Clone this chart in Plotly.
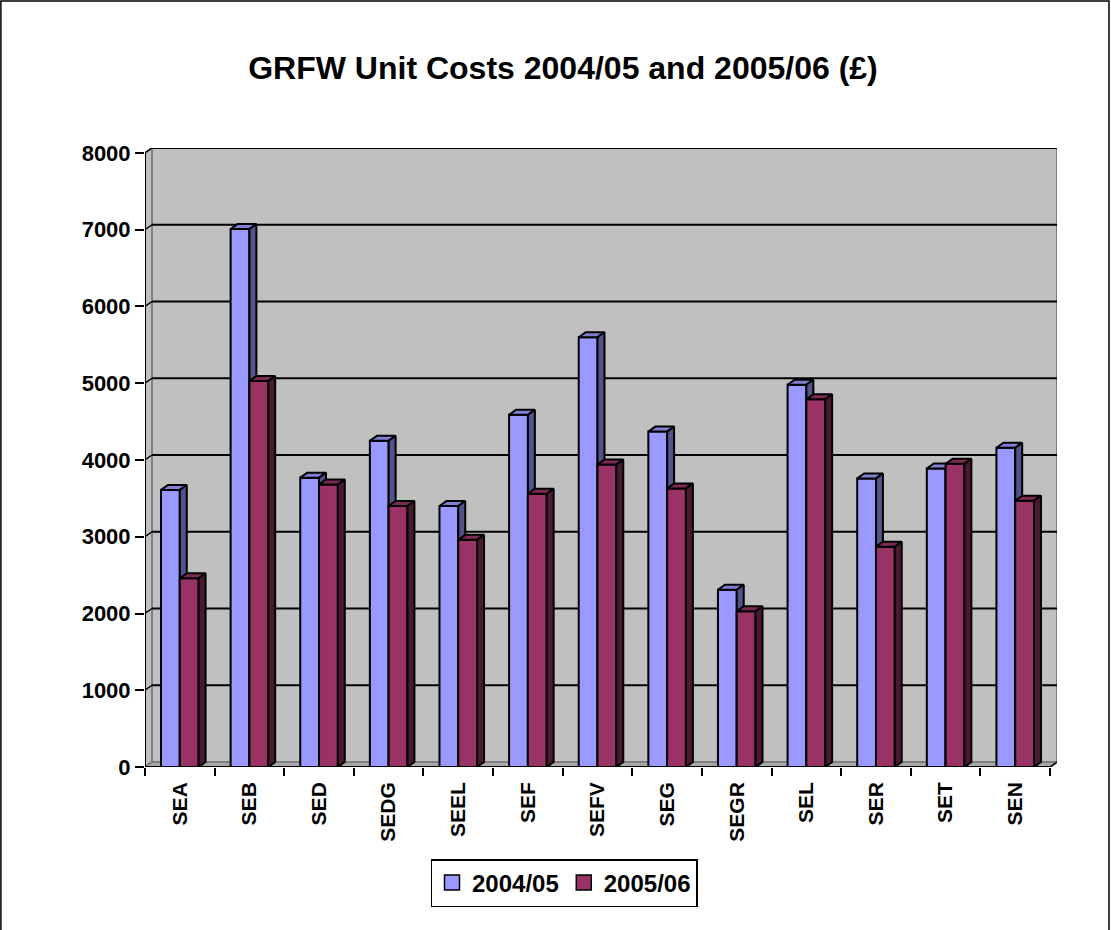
import plotly.graph_objects as go

# Unit costs (GBP) per service area
categories = ["SEA", "SEB", "SED", "SEDG", "SEEL", "SEF", "SEFV", "SEG",
              "SEGR", "SEL", "SER", "SET", "SEN"]
costs_2004_05 = [3610, 7010, 3770, 4250, 3400, 4590, 5600, 4370,
                 2310, 4980, 3760, 3890, 4160]
costs_2005_06 = [2460, 5030, 3680, 3400, 2960, 3560, 3940, 3630,
                 2030, 4790, 2870, 3950, 3470]
series_names = ["2004/05", "2005/06"]
y_ticks = [0, 1000, 2000, 3000, 4000, 5000, 6000, 7000, 8000]

# pseudo-3D geometry (data units)
BAR_W = 0.27      # front face width of one bar
DX = 0.10         # depth offset along x
DY = 65           # depth offset along y
X_LO, X_HI = -0.5, len(categories) - 0.5
Y_TOP = y_ticks[-1]

FONT = "Arial, Liberation Sans, sans-serif"

styles = [
    dict(front="#9999FF", top="#7F7FD4", side="#52528C"),
    dict(front="#993366", top="#7F2A55", side="#4C1933"),
]


def polys(rects):
    xs, ys = [], []
    for pts in rects:
        for px, py in pts:
            xs.append(px)
            ys.append(py)
        xs.append(pts[0][0])
        ys.append(pts[0][1])
        xs.append(None)
        ys.append(None)
    return xs, ys


fig = go.Figure()

for s, vals in enumerate([costs_2004_05, costs_2005_06]):
    fronts, tops, sides = [], [], []
    for i, v in enumerate(vals):
        x0 = i - BAR_W if s == 0 else i
        x1 = x0 + BAR_W
        fronts.append([(x0, 0), (x1, 0), (x1, v), (x0, v)])
        tops.append([(x0, v), (x1, v), (x1 + DX, v + DY), (x0 + DX, v + DY)])
        sides.append([(x1, 0), (x1 + DX, DY), (x1 + DX, v + DY), (x1, v)])
    st = styles[s]
    for faces, col in ((fronts, st["front"]), (tops, st["top"]), (sides, st["side"])):
        xs, ys = polys(faces)
        fig.add_trace(go.Scatter(
            x=xs, y=ys, mode="lines", fill="toself", fillcolor=col,
            line=dict(color="black", width=2), hoverinfo="skip",
            showlegend=False))

# legend entries
for s, name in enumerate(series_names):
    fig.add_trace(go.Scatter(
        x=[None], y=[None], mode="markers", name=f"<b>{name}</b>",
        marker=dict(symbol="square", size=15, color=styles[s]["front"],
                    line=dict(color="black", width=1.5))))

shapes = []
# back wall
shapes.append(dict(type="rect", xref="x", yref="y", layer="below",
                   x0=X_LO + DX, x1=X_HI + DX, y0=DY, y1=Y_TOP + DY,
                   fillcolor="#C0C0C0", line=dict(color="#808080", width=2)))
# left wall
shapes.append(dict(type="path", xref="x", yref="y", layer="below",
                   path=f"M{X_LO},0 L{X_LO},{Y_TOP} L{X_LO + DX},{Y_TOP + DY} L{X_LO + DX},{DY} Z",
                   fillcolor="#C0C0C0", line=dict(color="#808080", width=2)))
# floor
shapes.append(dict(type="path", xref="x", yref="y", layer="below",
                   path=f"M{X_LO},0 L{X_HI},0 L{X_HI + DX},{DY} L{X_LO + DX},{DY} Z",
                   fillcolor="#A8A8A8", line=dict(color="#808080", width=2)))
# gridlines on the back wall plus their diagonal on the side wall
for v in y_ticks[1:]:
    shapes.append(dict(type="line", xref="x", yref="y", layer="below",
                       x0=X_LO + DX, x1=X_HI + DX, y0=v + DY, y1=v + DY,
                       line=dict(color="black", width=2)))
    shapes.append(dict(type="line", xref="x", yref="y", layer="below",
                       x0=X_LO, x1=X_LO + DX, y0=v, y1=v + DY,
                       line=dict(color="black", width=1.5)))
# axis lines
shapes.append(dict(type="line", xref="x", yref="y",
                   x0=X_LO, x1=X_LO, y0=0, y1=Y_TOP,
                   line=dict(color="black", width=2)))
shapes.append(dict(type="line", xref="x", yref="y",
                   x0=X_LO, x1=X_HI, y0=0, y1=0,
                   line=dict(color="black", width=2)))
shapes.append(dict(type="line", xref="x", yref="y",
                   x0=X_HI, x1=X_HI + DX, y0=0, y1=DY,
                   line=dict(color="black", width=1.5)))
# chart frame
shapes.append(dict(type="rect", xref="paper", yref="paper",
                   x0=-0.158, x1=1.057, y0=-0.30, y1=1.2375,
                   line=dict(color="black", width=1.5), fillcolor="rgba(0,0,0,0)"))

fig.update_layout(
    width=1111, height=930,
    margin=dict(l=145, r=54, t=148, b=163),
    paper_bgcolor="white", plot_bgcolor="white",
    font=dict(family=FONT, color="black"),
    title=dict(text="<b>GRFW Unit Costs 2004/05 and 2005/06 (£)</b>",
               x=(563 - 0) / 1111, xanchor="center", y=1 - 68 / 930, yanchor="middle",
               font=dict(size=32, family=FONT, color="black")),
    xaxis=dict(range=[X_LO, X_HI + DX], tickmode="array",
               tickvals=list(range(len(categories))),
               ticktext=[f"<b>{c}</b>" for c in categories],
               tickangle=-90, ticks="", showgrid=False, zeroline=False,
               showline=False, tickfont=dict(size=21, family=FONT),
               ticklabelstandoff=10,
               minor=dict(tickmode="array",
                          tickvals=[i - 0.5 for i in range(len(categories) + 1)],
                          ticks="outside", ticklen=8, tickwidth=2,
                          tickcolor="black", showgrid=False),
               fixedrange=True),
    yaxis=dict(range=[0, Y_TOP + DY], tickmode="array", tickvals=y_ticks,
               ticktext=[f"<b>{t}</b>" for t in y_ticks],
               ticks="outside", ticklen=9, tickwidth=2, tickcolor="black",
               showgrid=False, zeroline=False, showline=False,
               tickfont=dict(size=22, family=FONT), fixedrange=True),
    legend=dict(orientation="h", x=(564 - 145) / 912, xanchor="center",
                y=(767 - 883) / 619, yanchor="middle",
                bgcolor="white", bordercolor="black", borderwidth=1.5,
                font=dict(size=24, family=FONT, color="black"),
                itemwidth=30, tracegroupgap=0),
    shapes=shapes,
)

fig.write_html("out.html")
